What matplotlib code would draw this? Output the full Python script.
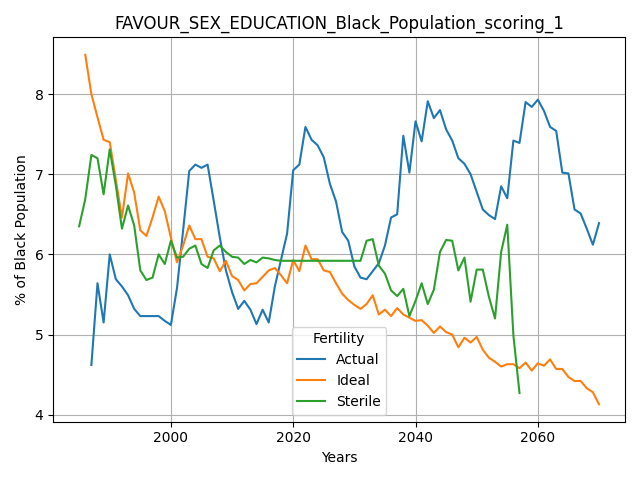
import matplotlib
matplotlib.use("Agg")
import matplotlib.pyplot as plt

# yearly values
actual_years = list(range(1987, 2071))
actual = [4.62, 5.64, 5.15, 6.00, 5.69, 5.60, 5.49, 5.32, 5.23, 5.23,
          5.23, 5.23, 5.17, 5.12, 5.58, 6.30, 7.04, 7.12, 7.08, 7.12,
          6.67, 6.21, 5.80, 5.53, 5.32, 5.42, 5.31, 5.13, 5.31, 5.15,
          5.60, 5.93, 6.26, 7.05, 7.12, 7.59, 7.43, 7.36, 7.21, 6.88,
          6.66, 6.28, 6.17, 5.85, 5.71, 5.69, 5.79, 5.89, 6.11, 6.46,
          6.50, 7.48, 7.02, 7.66, 7.41, 7.91, 7.70, 7.80, 7.56, 7.42,
          7.20, 7.13, 7.00, 6.78, 6.56, 6.49, 6.44, 6.85, 6.70, 7.42,
          7.39, 7.90, 7.84, 7.93, 7.79, 7.59, 7.54, 7.02, 7.01, 6.56,
          6.51, 6.32, 6.12, 6.39]

ideal_years = list(range(1986, 2071))
ideal = [8.49, 8.00, 7.71, 7.43, 7.40, 6.93, 6.46, 7.01, 6.77, 6.30,
         6.23, 6.46, 6.72, 6.54, 6.21, 5.90, 6.11, 6.36, 6.19, 6.19,
         5.97, 5.95, 5.79, 5.92, 5.73, 5.68, 5.55, 5.63, 5.64, 5.72,
         5.80, 5.83, 5.74, 5.64, 5.93, 5.79, 6.11, 5.94, 5.94, 5.80,
         5.78, 5.64, 5.51, 5.43, 5.37, 5.32, 5.38, 5.49, 5.25, 5.31,
         5.23, 5.33, 5.25, 5.21, 5.17, 5.18, 5.11, 5.02, 5.10, 5.03,
         5.00, 4.84, 4.96, 4.90, 4.97, 4.81, 4.71, 4.66, 4.60, 4.63,
         4.63, 4.58, 4.65, 4.55, 4.64, 4.61, 4.69, 4.57, 4.57, 4.47,
         4.42, 4.42, 4.33, 4.28, 4.13]

sterile_years = list(range(1985, 2058))
sterile = [6.35, 6.69, 7.24, 7.20, 6.75, 7.31, 6.86, 6.32, 6.61, 6.36,
           5.80, 5.68, 5.71, 6.00, 5.88, 6.17, 5.96, 5.97, 6.07, 6.11,
           5.88, 5.83, 6.05, 6.11, 6.03, 5.97, 5.96, 5.88, 5.93, 5.90,
           5.96, 5.95, 5.93, 5.92, 5.92, 5.92, 5.92, 5.92, 5.92, 5.92,
           5.92, 5.92, 5.92, 5.92, 5.92, 5.92, 5.92, 6.17, 6.19, 5.86,
           5.76, 5.55, 5.48, 5.57, 5.23, 5.42, 5.64, 5.38, 5.56, 6.03,
           6.18, 6.17, 5.80, 5.96, 5.41, 5.81, 5.81, 5.47, 5.20, 6.03,
           6.37, 4.99, 4.27]

fig, ax = plt.subplots(figsize=(6.4, 4.8), dpi=100)
ax.plot(actual_years, actual, label="Actual")
ax.plot(ideal_years, ideal, label="Ideal")
ax.plot(sterile_years, sterile, label="Sterile")
ax.set_title("FAVOUR_SEX_EDUCATION_Black_Population_scoring_1")
ax.set_xlabel("Years")
ax.set_ylabel("% of Black Population")
ax.grid(True)
ax.legend(title="Fertility", loc="lower center")
plt.tight_layout()
plt.savefig("out.png")
